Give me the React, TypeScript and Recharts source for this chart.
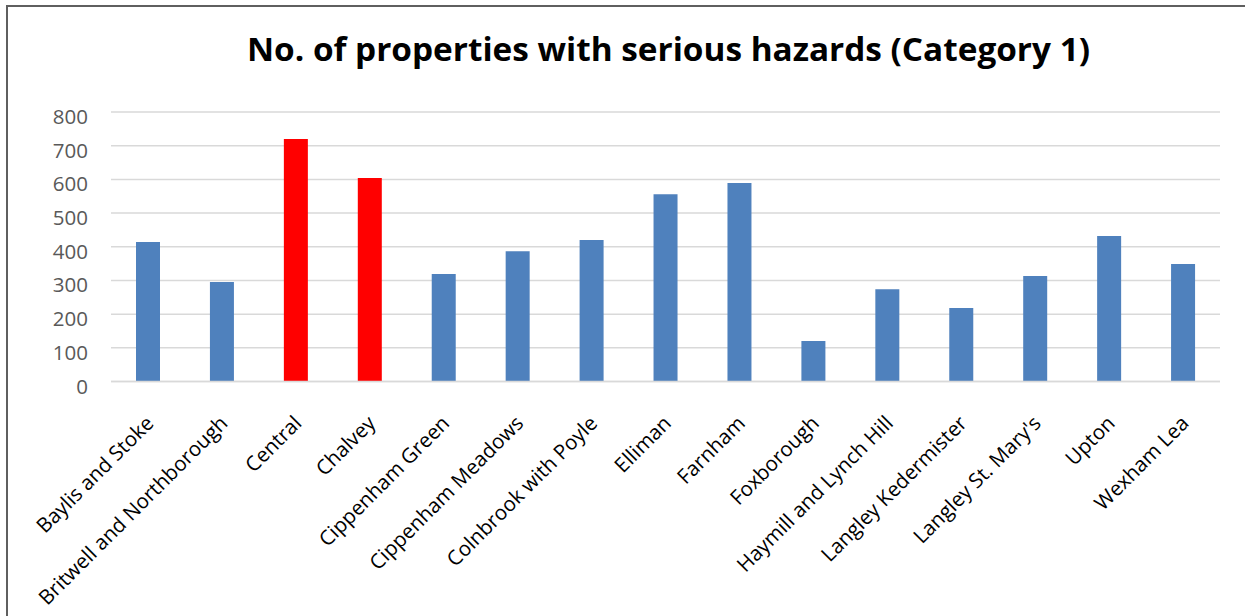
import React from "react";
import { BarChart, Bar, XAxis, YAxis, CartesianGrid, Cell } from "recharts";

const wards = [
  "Baylis and Stoke",
  "Britwell and Northborough",
  "Central",
  "Chalvey",
  "Cippenham Green",
  "Cippenham Meadows",
  "Colnbrook with Poyle",
  "Elliman",
  "Farnham",
  "Foxborough",
  "Haymill and Lynch Hill",
  "Langley Kedermister",
  "Langley St. Mary's",
  "Upton",
  "Wexham Lea",
];

const properties = [414, 295, 720, 604, 319, 387, 420, 556, 589, 120, 274, 218, 313, 432, 349];

const highlightedWards = ["Central", "Chalvey"];

const yTicks = [0, 100, 200, 300, 400, 500, 600, 700, 800];

const titleText = "No. of properties with serious hazards (Category 1)";

const data = wards.map((name, i) => ({ name, value: properties[i] }));

const BLUE = "#4F81BD";
const RED = "#FF0000";
const FONT = "'Open Sans', sans-serif";

const XTick = (props: any) => {
  const { x, y, payload } = props;
  return (
    <g transform={`translate(${x},${y})`}>
      <text
        x={7}
        y={43}
        transform="rotate(-45, 7, 43)"
        textAnchor="end"
        fill="#000000"
        fontSize={20.5}
        fontFamily={FONT}
      >
        {payload.value}
      </text>
    </g>
  );
};

const YTick = (props: any) => {
  const { x, y, payload } = props;
  return (
    <text
      x={x}
      y={y + 12}
      textAnchor="end"
      fill="#595959"
      fontSize={20.5}
      fontFamily={FONT}
    >
      {payload.value}
    </text>
  );
};

export default function App() {
  return (
    <div
      style={{
        position: "absolute",
        left: 0,
        top: 0,
        width: 1245,
        height: 616,
        background: "#ffffff",
        overflow: "hidden",
      }}
    >
      <div
        style={{
          position: "absolute",
          left: 6,
          top: 5,
          width: 1400,
          height: 800,
          borderLeft: "2px solid #5f5f5f",
          borderTop: "2px solid #5f5f5f",
          boxSizing: "border-box",
        }}
      />
      <div style={{ position: "absolute", left: 0, top: 0 }}>
        <BarChart
          width={1245}
          height={616}
          data={data}
          margin={{ top: 112, right: 25, left: 0, bottom: 0 }}
        >
          <CartesianGrid vertical={false} stroke="#d9d9d9" strokeWidth={1.5} />
          <XAxis
            dataKey="name"
            interval={0}
            height={234.5}
            tickLine={false}
            tickSize={0}
            tickMargin={0}
            axisLine={{ stroke: "#d9d9d9", strokeWidth: 1.5 }}
            tick={<XTick />}
          />
          <YAxis
            width={111}
            domain={[0, 800]}
            ticks={yTicks}
            interval={0}
            tickLine={false}
            axisLine={false}
            tickSize={0}
            tickMargin={23}
            tick={<YTick />}
          />
          <Bar dataKey="value" barSize={24} isAnimationActive={false}>
            {data.map((d) => (
              <Cell
                key={d.name}
                fill={highlightedWards.includes(d.name) ? RED : BLUE}
              />
            ))}
          </Bar>
        </BarChart>
      </div>
      <svg
        width={1245}
        height={100}
        style={{ position: "absolute", left: 0, top: 0, pointerEvents: "none" }}
      >
        <text
          x={668.5}
          y={61}
          textAnchor="middle"
          fontFamily={FONT}
          fontWeight={700}
          fontSize={33}
          textLength={843}
          lengthAdjust="spacingAndGlyphs"
          fill="#000000"
        >
          {titleText}
        </text>
      </svg>
    </div>
  );
}
